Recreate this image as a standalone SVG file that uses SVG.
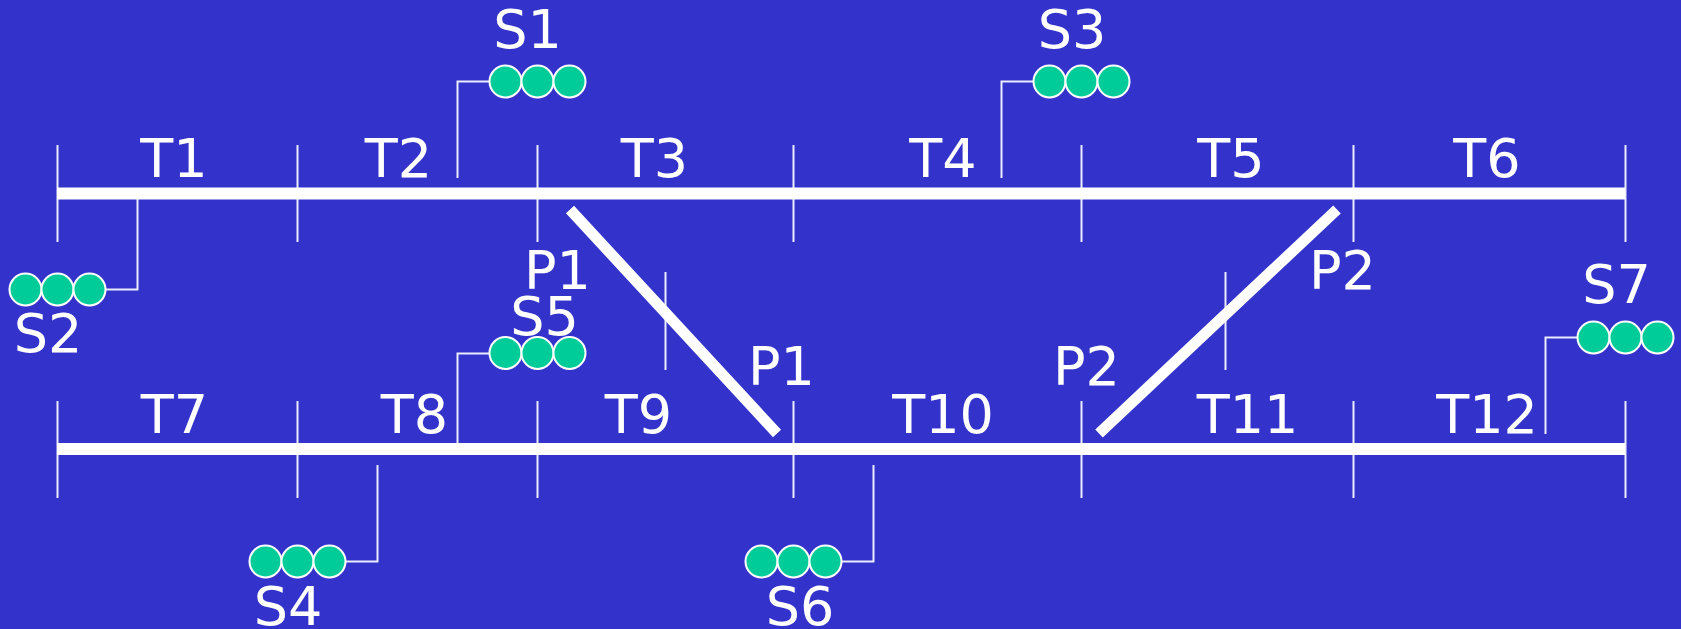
<svg xmlns="http://www.w3.org/2000/svg" width="1681" height="629" viewBox="0 0 1681 629">
<style>
.track{stroke:#fff;stroke-width:12;fill:none}
.switch{stroke:#fff;stroke-width:11;fill:none}
.tick{stroke:#fff;stroke-width:2;fill:none;opacity:.9}
.lead{stroke:#fff;stroke-width:2;fill:none;opacity:.9}
.lamp{fill:#00cc99;stroke:#fff;stroke-width:2}
text{font-family:"DejaVu Sans",Verdana,sans-serif;font-size:54px;fill:#fff;text-anchor:middle}
</style>
<defs>
<g id="lamps"><circle class="lamp" cx="-32" cy="0" r="16"/><circle class="lamp" cx="0" cy="0" r="16"/><circle class="lamp" cx="32" cy="0" r="16"/></g>
</defs>
<rect width="1681" height="629" fill="#3333cc"/>
<g id="connectors">
<path class="tick" d="M57.500 145V242M297.500 145V242M537.500 145V242M793.500 145V242M1081.500 145V242M1353.500 145V242M1625.500 145V242"/>
<path class="tick" d="M57.500 401V498M297.500 401V498M537.500 401V498M793.500 401V498M1081.500 401V498M1353.500 401V498M1625.500 401V498"/>
<path class="tick" d="M665.500 272V370M1225.500 272V370"/>
<path class="track" d="M57 193.500H1625M57 449H1625"/>
<path class="switch" d="M570 209.500L777 433.500M1337 209.500L1099 433.500"/>
<path class="lead" d="M457.500 178V81.500H489M1001.500 178V81.500H1033M137.500 199V289.500H105M457.500 443V353.500H489M377.500 465V561.500H345M873.500 465V561.500H841M1545.500 434V337.500H1577"/>
</g>
<g id="T1"><text x="174" y="177">T1</text></g>
<g id="T2"><text x="398.500" y="177">T2</text></g>
<g id="T3"><text x="654.500" y="177">T3</text></g>
<g id="T4"><text x="943" y="177">T4</text></g>
<g id="T5"><text x="1231" y="177">T5</text></g>
<g id="T6"><text x="1487" y="177">T6</text></g>
<g id="T7"><text x="174.500" y="433">T7</text></g>
<g id="T8"><text x="414.500" y="433">T8</text></g>
<g id="T9"><text x="638.500" y="433">T9</text></g>
<g id="T10"><text x="943" y="433">T10</text></g>
<g id="T11"><text x="1247.500" y="433">T11</text></g>
<g id="T12"><text x="1487" y="433">T12</text></g>
<g id="S1"><use href="#lamps" x="537.500" y="81.500"/><text x="527.500" y="48">S1</text></g>
<g id="S2"><use href="#lamps" x="57.500" y="289.500"/><text x="48" y="352">S2</text></g>
<g id="S3"><use href="#lamps" x="1081.500" y="81.500"/><text x="1072" y="48">S3</text></g>
<g id="S4"><use href="#lamps" x="297.500" y="561.500"/><text x="288" y="625">S4</text></g>
<g id="S5"><use href="#lamps" x="537.500" y="353"/><text x="544.500" y="335">S5</text></g>
<g id="S6"><use href="#lamps" x="793.500" y="561.500"/><text x="800" y="625">S6</text></g>
<g id="S7"><use href="#lamps" x="1625.500" y="337.500"/><text x="1616.500" y="303">S7</text></g>
<g id="P1a"><text x="557.500" y="289">P1</text></g>
<g id="P1b"><text x="781.500" y="385">P1</text></g>
<g id="P2a"><text x="1342.500" y="289">P2</text></g>
<g id="P2b"><text x="1086.500" y="385">P2</text></g>
</svg>
